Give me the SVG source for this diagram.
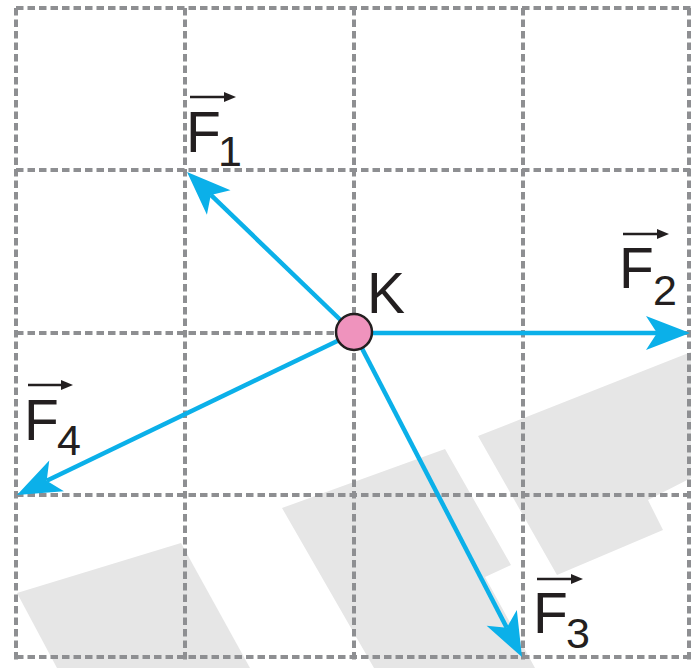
<svg xmlns="http://www.w3.org/2000/svg" width="691" height="668" viewBox="0 0 691 668">
<style>
.bg{fill:#e6e6e6;stroke:none}
.grid{stroke:#8e8f92;stroke-width:4;stroke-dasharray:7.5 4;fill:none}
.force{stroke:#0bb0e9;stroke-width:4.5;fill:none;marker-end:url(#ah)}
.lbl{font-family:"Liberation Sans",Arial,sans-serif;fill:#231f20}
.big{font-size:57px}
.sub{font-size:43px}
.vec{stroke:#231f20;stroke-width:2.5;fill:none}
.vh{fill:#231f20}
</style>
<defs>
<marker id="ah" markerUnits="userSpaceOnUse" viewBox="-46 -20 48 40" markerWidth="48" markerHeight="40" refX="-33" refY="0" orient="auto">
<path d="M0,0 L-44,-17 L-33,0 L-44,17 Z" fill="#0bb0e9"/>
</marker>
</defs>
<g id="background">
<polygon class="bg" points="17,593 181,543 250,668 57,668"/>
<polygon class="bg" points="282,508 445,449 511,565 485,577 535,668 374,668"/>
<polygon class="bg" points="478,436 691,352 691,478 648,500 663,530 557,575"/>
</g>
<g id="grid">
<line class="grid" x1="16" y1="8" x2="691" y2="8"/>
<line class="grid" x1="16" y1="170" x2="691" y2="170"/>
<line class="grid" x1="16" y1="333" x2="691" y2="333"/>
<line class="grid" x1="16" y1="495" x2="691" y2="495"/>
<line class="grid" x1="16" y1="657" x2="691" y2="657"/>
<line class="grid" x1="16" y1="8" x2="16" y2="660"/>
<line class="grid" x1="185" y1="8" x2="185" y2="660"/>
<line class="grid" x1="354" y1="8" x2="354" y2="660"/>
<line class="grid" x1="523" y1="8" x2="523" y2="660"/>
<line class="grid" x1="689" y1="8" x2="689" y2="660"/>
</g>
<g id="connectors">
<line class="force" x1="354" y1="333" x2="210.8" y2="194.9"/>
<line class="force" x1="354" y1="333" x2="657" y2="333"/>
<line class="force" x1="354" y1="333" x2="506.8" y2="627.7"/>
<line class="force" x1="354" y1="333" x2="46.7" y2="480.7"/>
</g>
<g id="K">
<circle cx="354" cy="332" r="18" fill="#ef93bd" stroke="#231f20" stroke-width="2.5"/>
<text class="lbl big" x="367" y="313">K</text>
</g>
<g id="F1">
<text class="lbl big" x="186" y="152">F</text>
<text class="lbl sub" x="218" y="166">1</text>
<line class="vec" x1="190" y1="97" x2="226" y2="97"/>
<polygon class="vh" points="236,97 224,92 224,102"/>
</g>
<g id="F2">
<text class="lbl big" x="619" y="288">F</text>
<text class="lbl sub" x="653" y="305">2</text>
<line class="vec" x1="623" y1="234" x2="659" y2="234"/>
<polygon class="vh" points="669,234 657,229 657,239"/>
</g>
<g id="F3">
<text class="lbl big" x="533" y="633">F</text>
<text class="lbl sub" x="566" y="648">3</text>
<line class="vec" x1="537" y1="579" x2="573" y2="579"/>
<polygon class="vh" points="583,579 571,574 571,584"/>
</g>
<g id="F4">
<text class="lbl big" x="24" y="440">F</text>
<text class="lbl sub" x="57" y="455">4</text>
<line class="vec" x1="28" y1="385" x2="63" y2="385"/>
<polygon class="vh" points="73,385 61,380 61,390"/>
</g>
</svg>
